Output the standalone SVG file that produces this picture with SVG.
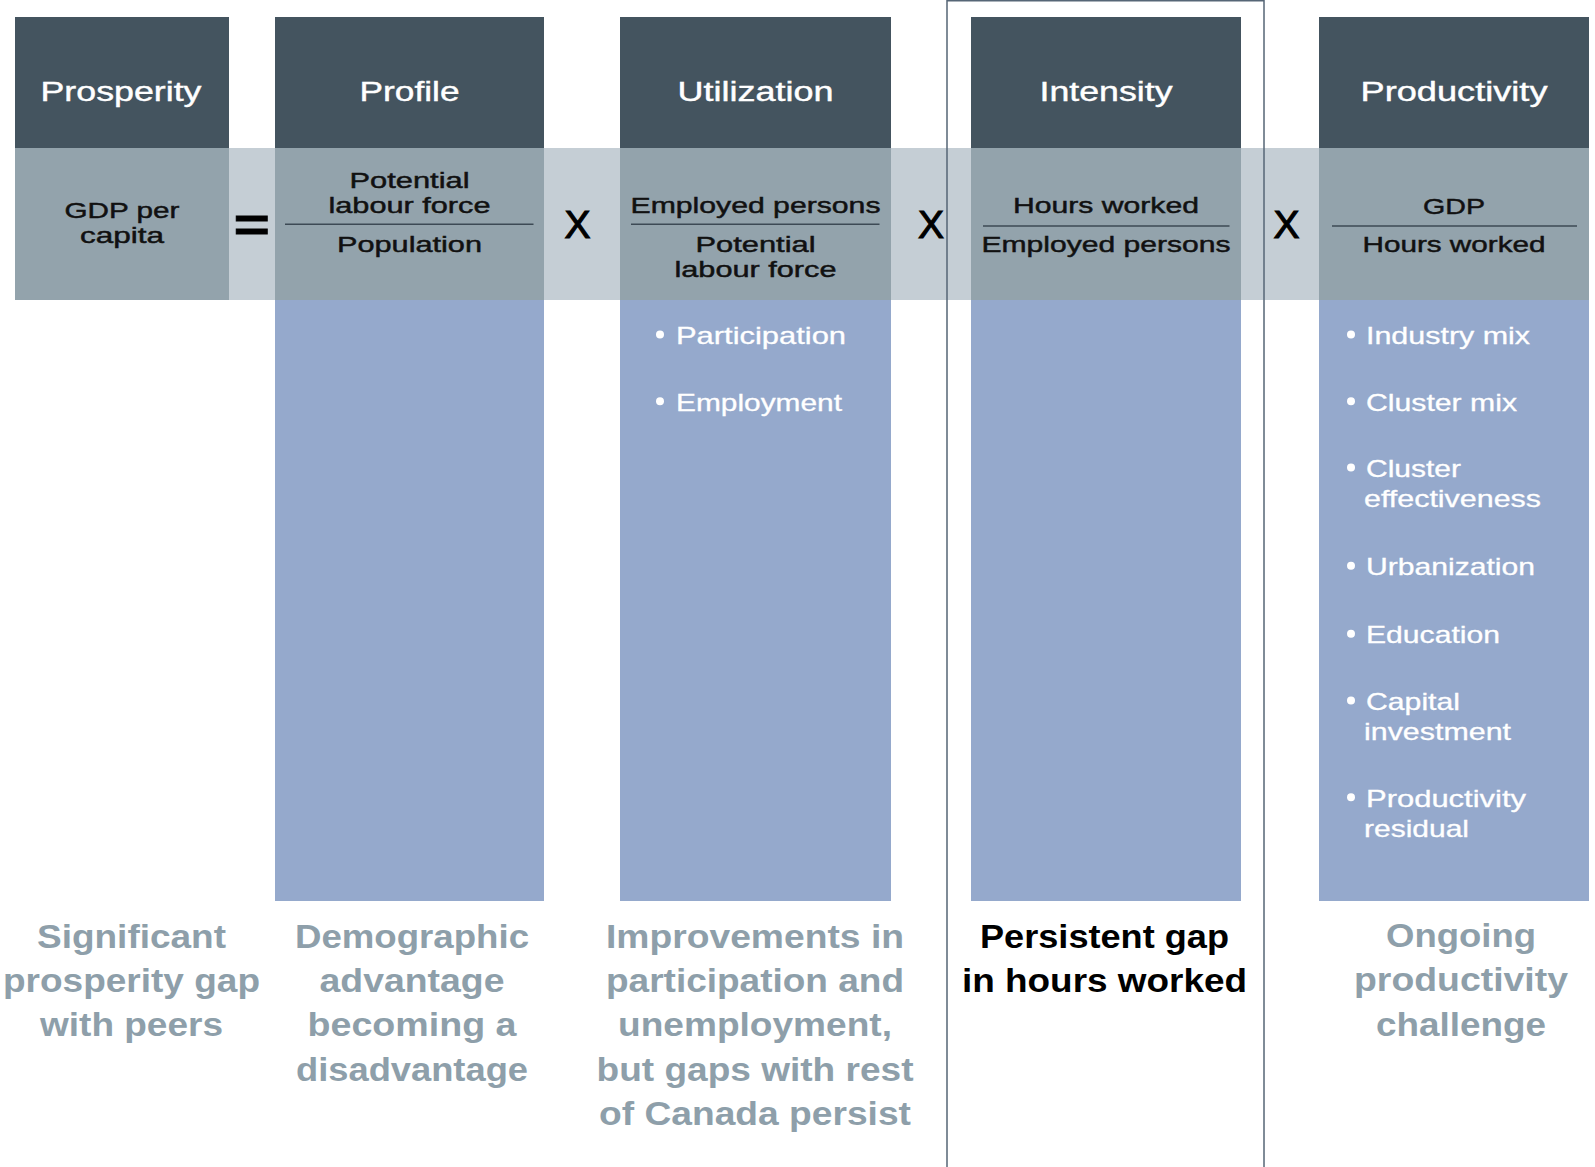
<svg xmlns="http://www.w3.org/2000/svg" width="1595" height="1167" viewBox="0 0 1595 1167">
<style>
text{font-family:"Liberation Sans",Arial,Helvetica,sans-serif}
.hdr{fill:#44545f}
.band{fill:#93a3ac}
.blue{fill:#95a9cc}
.ht{font-size:27px;fill:#ffffff;stroke:#ffffff;stroke-width:0.4;text-anchor:middle}
.bt{font-size:22.4px;fill:#111111;stroke:#111111;stroke-width:0.45;text-anchor:middle}
.li{font-size:24px;fill:#ffffff;stroke:#ffffff;stroke-width:0.3}
.op{font-size:39px;fill:#000000;stroke:#000000;stroke-width:1.1;text-anchor:middle}
.ft{font-size:32.5px;font-weight:bold;fill:#8e9faa;text-anchor:middle}
.fk{fill:#000000}
.rule{stroke:#3d4a55;stroke-width:1.6}
.dot{fill:#ffffff}
</style>
<rect x="0" y="0" width="1595" height="1167" fill="#ffffff"/>
<rect x="15" y="148" width="1574" height="152" fill="#c5ced5"/>
<rect x="947" y="0.75" width="317" height="1175" fill="none" stroke="#566676" stroke-width="1.5"/>

<g id="prosperity">
<rect class="hdr" x="15" y="17" width="214" height="131"/>
<rect class="band" x="15" y="148" width="214" height="152"/>
<text class="ht" x="121" y="101" textLength="161" lengthAdjust="spacingAndGlyphs">Prosperity</text>
<text class="bt" x="122" y="218" textLength="115" lengthAdjust="spacingAndGlyphs">GDP per</text>
<text class="bt" x="122" y="242.5" textLength="84" lengthAdjust="spacingAndGlyphs">capita</text>
<text class="ft" x="131.5" y="948" textLength="189" lengthAdjust="spacingAndGlyphs">Significant</text>
<text class="ft" x="131.5" y="991.5" textLength="257" lengthAdjust="spacingAndGlyphs">prosperity gap</text>
<text class="ft" x="131.5" y="1036" textLength="183" lengthAdjust="spacingAndGlyphs">with peers</text>
</g>

<g id="profile">
<rect class="hdr" x="275" y="17" width="269" height="131"/>
<rect class="band" x="275" y="148" width="269" height="152"/>
<rect class="blue" x="275" y="300" width="269" height="601"/>
<text class="ht" x="409.5" y="101" textLength="100" lengthAdjust="spacingAndGlyphs">Profile</text>
<text class="bt" x="409.5" y="188.3" textLength="120" lengthAdjust="spacingAndGlyphs">Potential</text>
<text class="bt" x="409.5" y="213.3" textLength="162" lengthAdjust="spacingAndGlyphs">labour force</text>
<line class="rule" x1="285" y1="224.3" x2="533.5" y2="224.3"/>
<text class="bt" x="409.5" y="251.7" textLength="145" lengthAdjust="spacingAndGlyphs">Population</text>
<text class="ft" x="412" y="948" textLength="234" lengthAdjust="spacingAndGlyphs">Demographic</text>
<text class="ft" x="412" y="991.5" textLength="185" lengthAdjust="spacingAndGlyphs">advantage</text>
<text class="ft" x="412" y="1036" textLength="209" lengthAdjust="spacingAndGlyphs">becoming a</text>
<text class="ft" x="412" y="1080.5" textLength="232" lengthAdjust="spacingAndGlyphs">disadvantage</text>
</g>

<g id="utilization">
<rect class="hdr" x="620" y="17" width="271" height="131"/>
<rect class="band" x="620" y="148" width="271" height="152"/>
<rect class="blue" x="620" y="300" width="271" height="601"/>
<text class="ht" x="755.5" y="101" textLength="156" lengthAdjust="spacingAndGlyphs">Utilization</text>
<text class="bt" x="755.5" y="213.3" textLength="250" lengthAdjust="spacingAndGlyphs">Employed persons</text>
<line class="rule" x1="631" y1="224.3" x2="879.5" y2="224.3"/>
<text class="bt" x="755.5" y="252.3" textLength="120" lengthAdjust="spacingAndGlyphs">Potential</text>
<text class="bt" x="755.5" y="277.3" textLength="162" lengthAdjust="spacingAndGlyphs">labour force</text>
<circle class="dot" cx="660" cy="334.5" r="4"/>
<text class="li" x="676" y="344" textLength="170" lengthAdjust="spacingAndGlyphs">Participation</text>
<circle class="dot" cx="660" cy="401.2" r="4"/>
<text class="li" x="676" y="410.7" textLength="166" lengthAdjust="spacingAndGlyphs">Employment</text>
<text class="ft" x="755" y="948" textLength="298" lengthAdjust="spacingAndGlyphs">Improvements in</text>
<text class="ft" x="755" y="991.5" textLength="298" lengthAdjust="spacingAndGlyphs">participation and</text>
<text class="ft" x="755" y="1036" textLength="274" lengthAdjust="spacingAndGlyphs">unemployment,</text>
<text class="ft" x="755" y="1080.5" textLength="317" lengthAdjust="spacingAndGlyphs">but gaps with rest</text>
<text class="ft" x="755" y="1125" textLength="312" lengthAdjust="spacingAndGlyphs">of Canada persist</text>
</g>

<g id="intensity">
<rect class="hdr" x="971" y="17" width="270" height="131"/>
<rect class="band" x="971" y="148" width="270" height="152"/>
<rect class="blue" x="971" y="300" width="270" height="601"/>
<text class="ht" x="1106" y="101" textLength="133" lengthAdjust="spacingAndGlyphs">Intensity</text>
<text class="bt" x="1106" y="213.3" textLength="186" lengthAdjust="spacingAndGlyphs">Hours worked</text>
<line class="rule" x1="983" y1="226" x2="1229.5" y2="226"/>
<text class="bt" x="1106" y="252.3" textLength="249" lengthAdjust="spacingAndGlyphs">Employed persons</text>
<text class="ft fk" x="1104.5" y="948" textLength="249" lengthAdjust="spacingAndGlyphs">Persistent gap</text>
<text class="ft fk" x="1104.5" y="991.5" textLength="285" lengthAdjust="spacingAndGlyphs">in hours worked</text>
</g>

<g id="productivity">
<rect class="hdr" x="1319" y="17" width="270" height="131"/>
<rect class="band" x="1319" y="148" width="270" height="152"/>
<rect class="blue" x="1319" y="300" width="270" height="601"/>
<text class="ht" x="1454" y="101" textLength="187" lengthAdjust="spacingAndGlyphs">Productivity</text>
<text class="bt" x="1454" y="214.3" textLength="62" lengthAdjust="spacingAndGlyphs">GDP</text>
<line class="rule" x1="1332" y1="226" x2="1577" y2="226"/>
<text class="bt" x="1454" y="252.3" textLength="183" lengthAdjust="spacingAndGlyphs">Hours worked</text>
<circle class="dot" cx="1351" cy="334.5" r="4"/>
<text class="li" x="1366" y="344" textLength="164" lengthAdjust="spacingAndGlyphs">Industry mix</text>
<circle class="dot" cx="1351" cy="401.2" r="4"/>
<text class="li" x="1366" y="410.7" textLength="151" lengthAdjust="spacingAndGlyphs">Cluster mix</text>
<circle class="dot" cx="1351" cy="467.5" r="4"/>
<text class="li" x="1366" y="477" textLength="95" lengthAdjust="spacingAndGlyphs">Cluster</text>
<text class="li" x="1364" y="506.7" textLength="177" lengthAdjust="spacingAndGlyphs">effectiveness</text>
<circle class="dot" cx="1351" cy="565.8" r="4"/>
<text class="li" x="1366" y="575.3" textLength="169" lengthAdjust="spacingAndGlyphs">Urbanization</text>
<circle class="dot" cx="1351" cy="633.8" r="4"/>
<text class="li" x="1366" y="643.3" textLength="134" lengthAdjust="spacingAndGlyphs">Education</text>
<circle class="dot" cx="1351" cy="700.5" r="4"/>
<text class="li" x="1366" y="710" textLength="94" lengthAdjust="spacingAndGlyphs">Capital</text>
<text class="li" x="1364" y="740" textLength="147" lengthAdjust="spacingAndGlyphs">investment</text>
<circle class="dot" cx="1351" cy="797.2" r="4"/>
<text class="li" x="1366" y="806.7" textLength="160" lengthAdjust="spacingAndGlyphs">Productivity</text>
<text class="li" x="1364" y="836.7" textLength="105" lengthAdjust="spacingAndGlyphs">residual</text>
<text class="ft" x="1461" y="947" textLength="150" lengthAdjust="spacingAndGlyphs">Ongoing</text>
<text class="ft" x="1461" y="991" textLength="214" lengthAdjust="spacingAndGlyphs">productivity</text>
<text class="ft" x="1461" y="1035.5" textLength="170" lengthAdjust="spacingAndGlyphs">challenge</text>
</g>

<g id="connectors">
<text class="op" x="251.7" y="240.5" style="font-size:46px;font-weight:bold;stroke-width:0.8" textLength="36" lengthAdjust="spacingAndGlyphs">=</text>
<text class="op" x="577.5" y="238.3">X</text>
<text class="op" x="931" y="238.3">X</text>
<text class="op" x="1286.5" y="238.3">X</text>
</g>
</svg>
